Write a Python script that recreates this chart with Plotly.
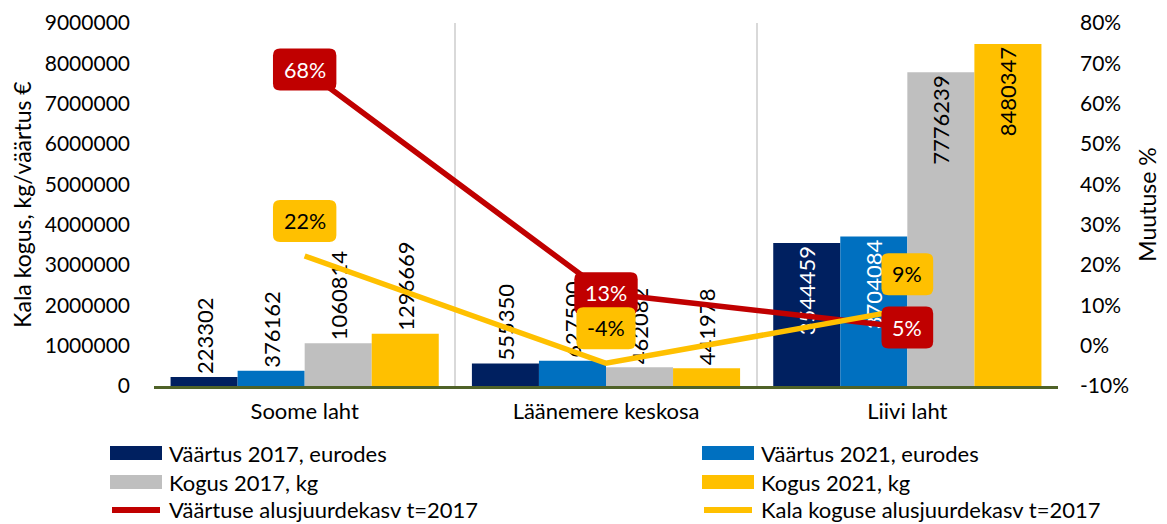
import plotly.graph_objects as go

categories = ["Soome laht", "Läänemere keskosa", "Liivi laht"]
vaartus_2017 = [223302, 555350, 3544459]
vaartus_2021 = [376162, 627500, 3704084]
kogus_2017 = [1060814, 462082, 7776239]
kogus_2021 = [1296669, 441978, 8480347]
vaartus_kasv = [0.68453, 0.12992, 0.04503]
kogus_kasv = [0.22233, -0.04351, 0.09054]

left_ticks = [0, 1000000, 2000000, 3000000, 4000000, 5000000, 6000000, 7000000, 8000000, 9000000]
right_ticks = [-0.1, 0.0, 0.1, 0.2, 0.3, 0.4, 0.5, 0.6, 0.7, 0.8]

FONT = "Lato, 'Open Sans', sans-serif"
NAVY = "#002060"
BLUE = "#0070C0"
GRAY = "#BFBFBF"
GOLD = "#FFC000"
RED = "#C00000"

# the page body adds an 8px offset; size the figure so it ends at the window edge
OFF = 8
W, H = 1167 - OFF, 524 - OFF
PL, PR, PT, PB = 154 - OFF, 1058 - OFF, 23 - OFF, 386 - OFF


def px_x(px):
    return (px - OFF - PL) / (PR - PL)


def px_y(py):
    return (PB - (py - OFF)) / (PB - PT)


fig = go.Figure()

bar_specs = [
    ("Väärtus 2017, eurodes", vaartus_2017, NAVY, "white"),
    ("Väärtus 2021, eurodes", vaartus_2021, BLUE, "white"),
    ("Kogus 2017, kg", kogus_2017, GRAY, "black"),
    ("Kogus 2021, kg", kogus_2021, GOLD, "black"),
]
for name, vals, col, incol in bar_specs:
    fig.add_trace(go.Bar(
        x=categories, y=vals, name=name,
        marker=dict(color=col, line=dict(width=0)),
        text=[str(v) for v in vals],
        textposition=["outside", "outside", "inside"],
        textangle=-90,
        insidetextanchor="end",
        insidetextfont=dict(family=FONT, size=22, color=incol),
        outsidetextfont=dict(family=FONT, size=22, color="black"),
        constraintext="none",
        cliponaxis=False,
        showlegend=False,
        yaxis="y",
    ))

fig.add_trace(go.Scatter(
    x=categories, y=vaartus_kasv, name="Väärtuse alusjuurdekasv t=2017",
    mode="lines", line=dict(color=RED, width=5.5), yaxis="y2", showlegend=False,
))
fig.add_trace(go.Scatter(
    x=categories, y=kogus_kasv, name="Kala koguse alusjuurdekasv t=2017",
    mode="lines", line=dict(color=GOLD, width=5.5), yaxis="y2", showlegend=False,
))

CHAR_W = {"-": 7.5, "%": 18.0}


def label_width(s):
    return 22 + sum(CHAR_W.get(ch, 11.7) for ch in s)


def rounded_box(w, h, cy, r=7):
    x0, x1 = -w / 2, w / 2
    y0, y1 = cy - h / 2, cy + h / 2
    return (f"M {x0 + r},{y0} L {x1 - r},{y0} Q {x1},{y0} {x1},{y0 + r} "
            f"L {x1},{y1 - r} Q {x1},{y1} {x1 - r},{y1} L {x0 + r},{y1} "
            f"Q {x0},{y1} {x0},{y1 - r} L {x0},{y0 + r} Q {x0},{y0} {x0 + r},{y0} Z")


shapes = []
annotations = []
label_sets = [
    (vaartus_kasv, RED, "white", 0),
    (kogus_kasv, GOLD, "black", 35),
]
for vals, fill, tcol, shift in label_sets:
    for i, (c, v) in enumerate(zip(categories, vals)):
        txt = f"{round(v * 100)}%"
        shapes.append(dict(
            type="path", xref="x", yref="y2",
            xsizemode="pixel", ysizemode="pixel",
            xanchor=i, yanchor=v,
            path=rounded_box(label_width(txt), 42, shift),
            fillcolor=fill, line=dict(width=0), layer="above",
        ))
        annotations.append(dict(
            x=c, y=v, xref="x", yref="y2", text=txt, yshift=shift,
            showarrow=False, xanchor="center", yanchor="middle",
            font=dict(family=FONT, size=21.5, color=tcol),
        ))

# custom legend (two columns, wide swatches); positions in window pixels
legend_items = [
    ("Väärtus 2017, eurodes", NAVY, "rect", 110, 453),
    ("Väärtus 2021, eurodes", BLUE, "rect", 702, 453),
    ("Kogus 2017, kg", GRAY, "rect", 110, 482),
    ("Kogus 2021, kg", GOLD, "rect", 702, 482),
    ("Väärtuse alusjuurdekasv t=2017", RED, "line", 110, 510),
    ("Kala koguse alusjuurdekasv t=2017", GOLD, "line", 702, 510),
]
for text, col, kind, lx, ly in legend_items:
    if kind == "rect":
        shapes.append(dict(
            type="rect", xref="paper", yref="paper",
            x0=px_x(lx), x1=px_x(lx + 52), y0=px_y(ly + 7), y1=px_y(ly - 7),
            fillcolor=col, line=dict(width=0), layer="above",
        ))
    else:
        shapes.append(dict(
            type="line", xref="paper", yref="paper",
            x0=px_x(lx + 2), x1=px_x(lx + 50), y0=px_y(ly), y1=px_y(ly),
            line=dict(color=col, width=6), layer="above",
        ))
    annotations.append(dict(
        x=px_x(lx + 57), y=px_y(ly), xref="paper", yref="paper",
        text=text, showarrow=False, xanchor="left", yanchor="middle",
        font=dict(family=FONT, size=22, color="black"),
    ))

fig.update_layout(
    width=W, height=H,
    margin=dict(l=PL, r=W - PR, t=PT, b=H - PB),
    paper_bgcolor="white", plot_bgcolor="white",
    barmode="group", bargap=0.11, bargroupgap=0,
    font=dict(family=FONT, size=22, color="black"),
    showlegend=False,
    shapes=shapes,
    annotations=annotations,
    xaxis=dict(
        type="category", showgrid=True, gridcolor="#D9D9D9", gridwidth=2,
        tickson="boundaries", ticks="", showline=True, linecolor="#4F6228",
        linewidth=3, tickfont=dict(family=FONT, size=22), ticklabelstandoff=4,
        zeroline=False, automargin=False,
    ),
    yaxis=dict(
        range=[0, 9000000], tickvals=left_ticks,
        ticktext=[str(t) for t in left_ticks],
        showgrid=False, zeroline=False, showline=False, ticks="",
        ticklabelstandoff=23, tickfont=dict(family=FONT, size=21),
        title=dict(text="Kala kogus, kg/väärtus €", font=dict(family=FONT, size=23), standoff=14),
        automargin=False,
    ),
    yaxis2=dict(
        range=[-0.1, 0.8], tickvals=right_ticks,
        ticktext=[f"{round(t * 100)}%" for t in right_ticks],
        overlaying="y", side="right", showgrid=False, zeroline=False,
        showline=False, ticks="", ticklabelstandoff=21,
        tickfont=dict(family=FONT, size=21),
        title=dict(text="Muutuse %", font=dict(family=FONT, size=23), standoff=11),
        automargin=False,
    ),
)

fig.write_html("out.html")
